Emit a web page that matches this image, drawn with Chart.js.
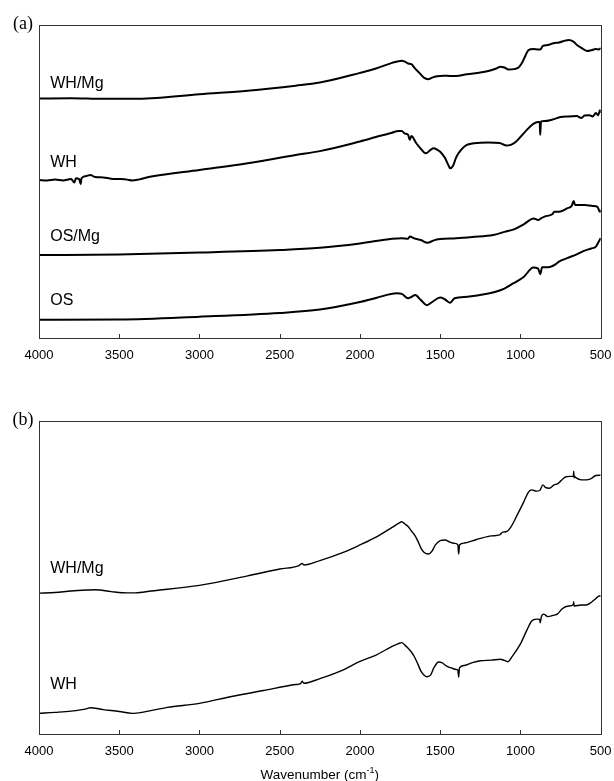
<!DOCTYPE html>
<html>
<head>
<meta charset="utf-8">
<script src="https://cdn.jsdelivr.net/npm/chart.js@4/dist/chart.umd.min.js"></script>
<style>
  html, body { margin: 0; padding: 0; background: #fff; }
  #wrap { position: relative; width: 614px; height: 781px; }
  #panelA { position: absolute; left: 0; top: 0; }
  #panelB { position: absolute; left: 0; top: 380px; }
</style>
</head>
<body>
<div id="wrap">
  <canvas id="panelA" width="614" height="380"></canvas>
  <canvas id="panelB" width="614" height="401"></canvas>
</div>
<script>
// Wavenumber axis ticks (cm-1)
const xTicks = [4000, 3500, 3000, 2500, 2000, 1500, 1000, 500];

// ---- Panel (a): FTIR spectra, offset for clarity (a.u.) ----
const a_WHMg_wn  = [4000,3800,3600,3400,3300,3000,2700,2400,2250,2000,1900,1800,1740,1720,1700,1680,1660,1630,1600,1575,1550,1520,1480,1438,1400,1334,1250,1200,1150,1125,1100,1075,1040,1012,990,970,950,920,890,877,860,830,794,760,721,700,670,648,620,586,560,530,510,500];
const a_WHMg_val = [76.5,76.6,76.4,76.4,76.6,77.9,79.0,80.6,81.6,84.7,86.1,87.9,88.6,88.3,87.7,87.5,86.3,84.7,83.1,82.7,83.2,83.6,83.8,83.7,83.7,84.3,84.8,85.3,86.1,86.7,86.4,85.8,85.9,86.4,87.9,90.1,92.0,92.3,92.2,92.2,93.3,93.6,94.2,94.4,95.0,95.2,94.7,93.6,92.7,91.7,91.9,92.3,92.2,92.6];

const a_WH_wn  = [4000,3950,3900,3850,3800,3780,3770,3750,3740,3735,3700,3680,3650,3600,3550,3500,3450,3420,3380,3300,3000,2700,2400,2250,2000,1900,1800,1760,1740,1720,1700,1690,1680,1650,1620,1590,1560,1542,1520,1500,1470,1450,1438,1420,1400,1370,1334,1250,1200,1130,1090,1060,1030,1000,960,920,890,880,877,872,850,800,750,700,650,620,600,570,550,530,515,505,500];
const a_WH_val = [50.5,50.3,50.6,50.3,50.8,49.7,51.0,50.8,49.2,51.1,51.8,52.1,51.4,51.3,50.9,50.8,50.6,50.3,50.6,51.6,53.7,55.8,58.5,59.7,62.8,64.2,65.6,66.1,66.1,65.3,64.9,63.3,64.5,62.3,60.4,59.0,60.1,60.6,60.2,59.5,57.5,55.3,54.2,55.0,57.8,60.1,61.7,62.4,62.5,62.3,61.5,61.7,62.6,64.2,66.5,68.4,69.0,69.0,64.9,69.2,69.3,69.8,70.6,70.8,70.9,70.3,71.1,71.2,70.8,71.9,71.2,72.8,71.9];

const a_OSMg_wn  = [4000,3500,3000,2500,2250,2000,1800,1740,1700,1690,1660,1620,1580,1540,1500,1400,1300,1170,1100,1040,980,918,890,870,850,800,790,760,710,680,668,660,600,550,520,505,500];
const a_OSMg_val = [26.5,26.7,27.3,28.1,28.8,30.2,31.7,31.9,31.7,32.4,31.8,31.3,30.4,31.2,31.6,31.9,32.3,32.9,33.9,34.7,36.3,38.2,37.7,38.3,38.8,39.6,40.3,40.3,41.4,42.3,43.8,42.5,42.5,42.2,41.9,40.3,40.9];

const a_OS_wn  = [4000,3500,3000,2500,2250,2000,1900,1770,1740,1700,1680,1656,1620,1583,1550,1500,1470,1438,1410,1330,1200,1160,1100,1043,980,920,890,877,865,830,800,780,760,710,650,600,560,530,510,500];
const a_OS_val = [5.8,5.9,6.8,8.0,9.1,11.5,12.8,14.3,14.1,12.7,13.1,13.7,12.1,10.5,11.5,12.9,12.3,11.3,12.7,13.2,14.2,14.7,15.8,17.5,19.5,22.5,22.2,20.4,22.6,22.6,23.0,23.6,24.4,25.5,26.7,27.9,28.6,29.2,31.0,31.9];

// ---- Panel (b) ----
const b_WHMg_wn  = [4000,3900,3800,3700,3650,3550,3450,3400,3300,3000,2700,2500,2380,2360,2350,2250,2100,2000,1900,1800,1760,1740,1720,1700,1680,1660,1640,1620,1600,1573,1550,1530,1500,1470,1440,1410,1390,1385,1380,1350,1300,1250,1180,1130,1110,1090,1060,1020,980,950,930,900,880,860,845,820,790,770,750,720,690,670,668,666,664,655,620,590,560,530,500];
const b_WHMg_val = [45.0,45.2,45.7,46.0,46.1,45.5,45.1,45.1,45.7,47.5,50.5,52.7,53.8,54.5,54.0,55.4,58.1,60.4,62.9,66.0,67.3,67.8,67.1,66.3,64.9,63.6,61.7,59.4,58.0,57.5,58.5,60.4,61.8,62.0,61.3,60.9,60.4,57.5,60.4,61.0,61.7,62.5,63.3,63.6,64.5,64.6,66.1,70.0,74.1,77.3,78.0,77.6,77.8,79.6,78.8,78.5,79.6,79.9,80.8,82.1,82.3,82.4,84.0,81.8,82.4,81.9,81.2,81.2,81.6,82.6,82.7];

const b_WH_wn  = [4000,3900,3800,3700,3680,3600,3500,3420,3350,3200,3000,2800,2600,2400,2370,2360,2350,2250,2100,2000,1900,1800,1760,1740,1720,1700,1680,1660,1640,1620,1600,1583,1560,1540,1510,1490,1460,1430,1400,1390,1385,1380,1350,1300,1250,1180,1126,1100,1080,1050,1000,960,930,900,880,877,870,855,830,790,770,740,700,670,668,666,620,590,560,530,510,500];
const b_WH_val = [6.6,6.9,7.3,8.1,8.4,7.8,7.2,6.6,7.0,8.5,9.8,12.0,13.9,15.8,16.1,16.9,16.2,17.7,20.6,23.2,25.2,28.0,28.9,29.2,28.4,27.4,26.2,24.6,22.4,20.1,18.8,18.3,18.8,21.1,23.0,22.8,21.7,21.1,20.6,20.4,18.2,21.1,21.9,22.8,23.4,23.6,23.9,23.5,23.1,24.9,28.8,33.2,36.1,36.7,36.6,35.5,37.4,38.3,37.5,38.0,38.3,40.0,40.9,41.4,42.3,40.9,41.2,41.2,42.0,43.3,44.1,44.1];

// Series names and where their captions sit (wavenumber, a.u.)
const a_names = ['WH/Mg', 'WH', 'OS/Mg', 'OS'];
const a_namePos = [[3930, 81.2], [3930, 56.1], [3930, 32.4], [3930, 12.0]];
const b_names = ['WH/Mg', 'WH'];
const b_namePos = [[3930, 52.9], [3930, 15.8]];

const SANS = '"Liberation Sans", Arial, Helvetica, sans-serif';
const SERIF = '"Liberation Serif", "Times New Roman", serif';

function toPoints(wn, val) {
  return wn.map((w, i) => ({ x: w, y: val[i] }));
}

function lineSet(label, wn, val, width) {
  return {
    label,
    data: toPoints(wn, val),
    borderColor: '#000',
    borderWidth: width,
    pointRadius: 0,
    fill: false,
    cubicInterpolationMode: 'monotone'
  };
}

// Frame, inward ticks, series captions, panel letter and axis title
const decor = {
  id: 'decor',
  afterDraw(chart, args, opts) {
    const { ctx, chartArea: ca, scales } = chart;
    const xs = scales.x, ys = scales.y;
    ctx.save();
    // box
    ctx.strokeStyle = '#333';
    ctx.lineWidth = 1;
    ctx.strokeRect(Math.round(ca.left) + 0.5, Math.round(ca.top) + 0.5,
                   Math.round(ca.right - ca.left), Math.round(ca.bottom - ca.top));
    // inward tick marks on the wavenumber axis
    ctx.beginPath();
    xTicks.forEach(t => {
      const px = Math.round(xs.getPixelForValue(t)) + 0.5;
      ctx.moveTo(px, ca.bottom);
      ctx.lineTo(px, ca.bottom - 4);
    });
    ctx.stroke();
    // series captions
    ctx.fillStyle = '#000';
    ctx.font = '16px ' + SANS;
    ctx.textAlign = 'left';
    ctx.textBaseline = 'middle';
    (opts.names || []).forEach((n, i) => {
      const p = opts.pos[i];
      ctx.fillText(n, xs.getPixelForValue(p[0]), ys.getPixelForValue(p[1]));
    });
    // panel letter
    ctx.font = '18px ' + SERIF;
    ctx.textAlign = 'center';
    ctx.fillText(opts.letter, 23, ca.top - 1);
    // axis title with superscript
    if (opts.title) {
      const main = 'Wavenumber (cm', sup = '-1', tail = ')';
      const f1 = '13.5px ' + SANS, f2 = '9px ' + SANS;
      ctx.font = f1; const w1 = ctx.measureText(main).width, w3 = ctx.measureText(tail).width;
      ctx.font = f2; const w2 = ctx.measureText(sup).width;
      const total = w1 + w2 + w3;
      let x = (ca.left + ca.right) / 2 - total / 2;
      const y = ca.bottom + 41.5;
      ctx.textAlign = 'left';
      ctx.font = f1; ctx.fillText(main, x, y); x += w1;
      ctx.font = f2; ctx.fillText(sup, x, y - 5); x += w2;
      ctx.font = f1; ctx.fillText(tail, x, y);
    }
    ctx.restore();
  }
};

function makeChart(id, datasets, topPad, axisHeight, decorOpts) {
  return new Chart(document.getElementById(id), {
    type: 'line',
    data: { datasets },
    options: {
      responsive: false,
      animation: false,
      devicePixelRatio: 1,
      layout: { padding: { left: 39, right: 13.3, top: topPad, bottom: 0 } },
      plugins: { legend: { display: false }, tooltip: { enabled: false }, decor: decorOpts },
      scales: {
        x: {
          type: 'linear', reverse: true, min: 500, max: 4000,
          afterBuildTicks: s => { s.ticks = xTicks.map(v => ({ value: v })); },
          afterFit: s => { s.height = axisHeight; s.paddingLeft = 0; s.paddingRight = 0; },
          grid: { display: false, drawTicks: false },
          border: { display: false },
          ticks: {
            autoSkip: false, maxRotation: 0, padding: 10, color: '#000',
            font: { family: SANS, size: 13 },
            callback: v => String(v)
          }
        },
        y: { display: false, min: 0, max: 100 }
      }
    },
    plugins: [decor]
  });
}

makeChart('panelA', [
  lineSet('WH/Mg', a_WHMg_wn, a_WHMg_val, 2),
  lineSet('WH', a_WH_wn, a_WH_val, 2),
  lineSet('OS/Mg', a_OSMg_wn, a_OSMg_val, 2),
  lineSet('OS', a_OS_wn, a_OS_val, 2)
], 25, 42, { names: a_names, pos: a_namePos, letter: '(a)', title: false });

makeChart('panelB', [
  lineSet('WH/Mg', b_WHMg_wn, b_WHMg_val, 1.4),
  lineSet('WH', b_WH_wn, b_WH_val, 1.4)
], 41, 47, { names: b_names, pos: b_namePos, letter: '(b)', title: true });
</script>
</body>
</html>
